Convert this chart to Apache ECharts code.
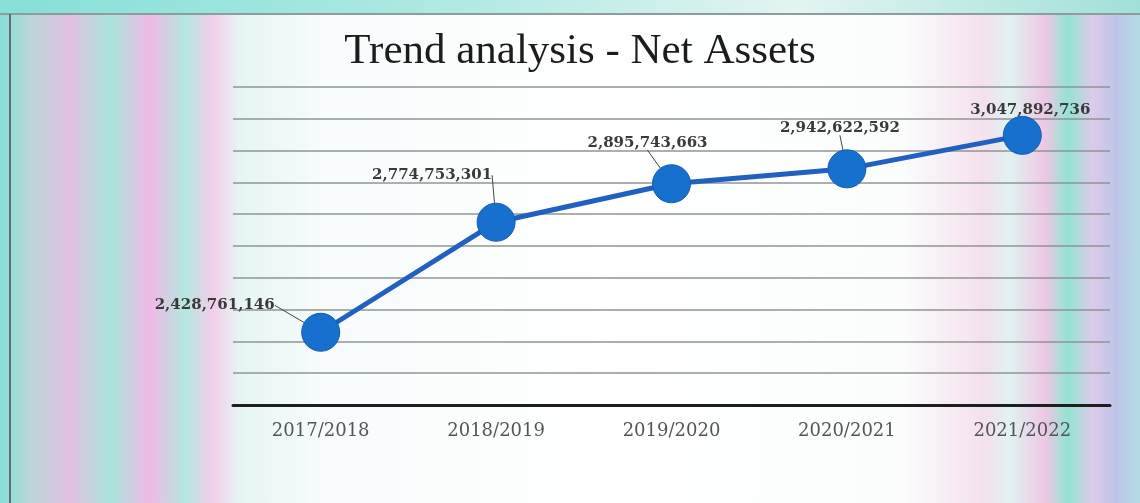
<!DOCTYPE html>
<html>
<head>
<meta charset="utf-8">
<script src="https://cdn.jsdelivr.net/npm/echarts@6/dist/echarts.min.js"></script>
<style>
  html, body { margin: 0; padding: 0; width: 1140px; height: 503px; overflow: hidden; }
  body {
    background: linear-gradient(90deg, #86e0d8 0px, #b9d6d8 30px, #e3bfe2 70px, #a9e5dc 110px, #f0b9e6 150px, #b3e8df 185px, #f2cdea 212px, #e6f5f4 240px, #f7fbfb 320px, #ffffff 600px, #fbfdfd 900px, #f4e0ee 985px, #e0f2f1 1010px, #efc7e5 1045px, #93e3d2 1068px, #dccbea 1092px, #c0c4e8 1115px, #b4dbe6 1140px);
  }
  #frame { position: absolute; left: 0; top: 0; width: 1140px; height: 503px; }
  #topstrip {
    position: absolute; left: 0; top: 0; width: 1140px; height: 13px;
    background: linear-gradient(90deg, #86dfd8, #b0e9e3 40%, #e3f4f2 70%, #a0e0d8);
    border-bottom: 2px solid #8e9c9e;
  }
  #leftline { position: absolute; left: 9px; top: 14px; width: 2px; height: 489px; background: #5f6e70; }
  #chart { position: absolute; left: 0; top: 0; width: 1140px; height: 503px; }
</style>
</head>
<body>
<div id="frame"><div id="topstrip"></div><div id="leftline"></div></div>
<div id="chart"></div>
<script>
const titleText = 'Trend analysis - Net Assets';
const categories = ['2017/2018', '2018/2019', '2019/2020', '2020/2021', '2021/2022'];
const netAssets = [2428761146, 2774753301, 2895743663, 2942622592, 3047892736];
const yMin = 2200000000;
const yMax = 3200000000;
const yStep = 100000000;

// label offsets (style only)
const labelShift = [[-106, 5], [-64, -15], [-24, -9], [-7, -9], [8, 7]];

const chart = echarts.init(document.getElementById('chart'), null, { renderer: 'canvas' });
chart.setOption({
  backgroundColor: 'transparent',
  animation: false,
  title: {
    text: titleText,
    left: 575,
    top: 25,
    textAlign: 'center',
    textStyle: { fontFamily: 'Liberation Serif', fontSize: 43, fontWeight: 'normal', color: '#1c1c1c' }
  },
  grid: { left: 233, right: 30, top: 87, bottom: 98, containLabel: false },
  xAxis: {
    type: 'category',
    data: categories,
    boundaryGap: true,
    axisLine: { show: true, lineStyle: { color: '#1e1e1e', width: 3 } },
    axisTick: { show: false },
    axisLabel: { margin: 17, fontFamily: 'DejaVu Serif', fontSize: 18, color: '#555' },
    splitLine: { show: false }
  },
  yAxis: {
    type: 'value',
    min: yMin, max: yMax, interval: yStep,
    axisLine: { show: false },
    axisTick: { show: false },
    axisLabel: { show: false },
    splitLine: { show: true, lineStyle: { color: '#8f9595', width: 1.5 } }
  },
  series: [{
    type: 'line',
    data: netAssets,
    symbol: 'circle',
    symbolSize: 38,
    lineStyle: { color: '#1f60c0', width: 5 },
    itemStyle: { color: '#176fce', borderColor: '#135cb0', borderWidth: 1 },
    label: {
      show: true,
      position: 'top',
      distance: 5,
      fontFamily: 'DejaVu Serif',
      fontSize: 15,
      fontWeight: 'bold',
      color: '#3a3a3a',
      formatter: p => p.value.toLocaleString('en-US')
    },
    labelLine: { show: true, lineStyle: { color: '#444', width: 1 } },
    labelLayout: p => ({ dx: labelShift[p.dataIndex][0], dy: labelShift[p.dataIndex][1] })
  }]
});
</script>
</body>
</html>
